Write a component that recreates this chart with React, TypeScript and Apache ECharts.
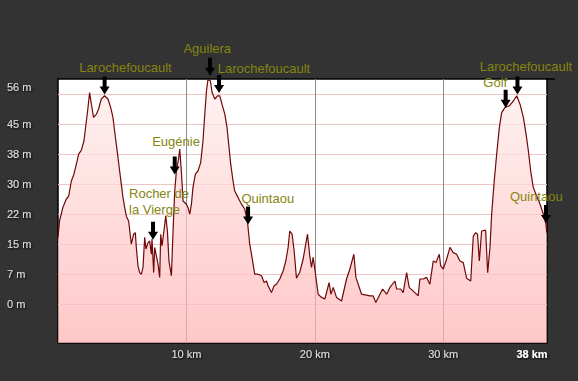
import React, { useEffect, useRef } from 'react';
import * as echarts from 'echarts';

// Elevation profile (distance in km, elevation in m)
const distanceKm = [
  0, 0.12, 0.38, 0.65, 0.83, 1.04, 1.24, 1.43, 1.61, 1.82, 2.02, 2.21, 2.33, 2.46, 2.6, 2.77, 2.99, 3.16, 3.37, 3.63,
  3.89, 4.1, 4.28, 4.41, 4.54, 4.67, 4.8, 4.93, 5.06, 5.19, 5.32, 5.5, 5.71, 5.89, 6.02, 6.1, 6.23, 6.36, 6.49, 6.62,
  6.75, 6.85, 7.01, 7.14, 7.27, 7.32, 7.45, 7.53, 7.66, 7.79, 7.92, 8.0, 8.1, 8.25, 8.39, 8.52, 8.64, 8.83, 8.96, 9.09,
  9.22, 9.4, 9.48, 9.61, 9.74, 10.0, 10.12, 10.26, 10.39, 10.51, 10.7, 10.9, 11.11, 11.29, 11.43, 11.56, 11.68, 11.87, 12.0, 12.21,
  12.42, 12.6, 12.77, 12.99, 13.16, 13.32, 13.45, 13.63, 13.76, 14.02, 14.29, 14.54, 14.75, 14.93, 15.11, 15.32, 15.58, 15.85, 16.05, 16.24,
  16.36, 16.62, 16.83, 17.01, 17.27, 17.53, 17.74, 17.92, 18.05, 18.23, 18.39, 18.57, 18.83, 19.09, 19.43, 19.61, 19.74, 19.87, 20.0, 20.26,
  20.52, 20.78, 21.11, 21.25, 21.43, 21.69, 22.08, 22.47, 22.73, 23.04, 23.2, 23.64, 24.29, 24.54, 24.75, 25.07, 25.28, 25.59, 25.85, 26.24,
  26.37, 26.68, 26.88, 27.15, 27.35, 27.79, 28.05, 28.18, 28.44, 28.71, 28.96, 29.22, 29.43, 29.69, 29.8, 30.0, 30.27, 30.52, 30.78, 31.04,
  31.3, 31.56, 31.82, 32.14, 32.34, 32.53, 32.67, 32.81, 32.99, 33.3, 33.46, 33.64, 33.77, 33.95, 34.16, 34.37, 34.55, 34.81, 35.14, 35.46,
  35.72, 35.98, 36.24, 36.45, 36.63, 36.81, 37.01, 37.28, 37.54, 37.8, 38.0, 38.06,
];
const elevationM = [
  16.7, 20.8, 24.2, 26.3, 27, 30.8, 32.5, 35, 37.5, 38.5, 40.8, 45.8, 49, 52.9, 50, 46.7, 47.5, 48.8, 51.3, 52.1,
  51.3, 49.2, 46.7, 43.3, 40, 36.7, 33.3, 30, 26.7, 24.2, 22, 20.8, 15, 17.5, 17.9, 14.2, 9.6, 7.9, 7.5, 9.2,
  16.7, 13.8, 15.4, 15.8, 12.5, 16.3, 7.9, 14.2, 12.1, 10, 6.7, 17.5, 14.6, 18.3, 22.1, 18.3, 10.8, 7.1, 18.3, 28.3,
  33.3, 36.5, 38.8, 33, 25.8, 25, 24.2, 22.5, 25, 29.2, 32.5, 33.3, 35.4, 40.8, 47.5, 53.3, 56.2, 55.8, 52.9, 51.3,
  52.1, 52.1, 50, 47.5, 44.2, 39.2, 35, 30.8, 28.3, 26.7, 25, 23.8, 20.8, 15, 11.7, 7.5, 7.5, 7.1, 5.4, 5.8,
  4.6, 2.9, 4.6, 5, 6.3, 8.3, 10.8, 14.2, 18.3, 17.5, 13.3, 6.5, 8, 11.3, 17.5, 12, 9.2, 11.7, 8.8, 2.5,
  1.7, 1.3, 5.4, 2.5, 4.2, 1.7, 0.8, 6.3, 8.8, 12.5, 6.7, 2.5, 2.1, 2.1, 0.4, 2.5, 3.8, 2.5, 4.2, 5.8,
  3.8, 3.8, 2.9, 7.9, 4.2, 2.9, 2.1, 6.3, 6.3, 6.7, 5, 10.8, 10.4, 12.5, 9.6, 8.8, 11.3, 14.2, 12.9, 12.5,
  10.8, 10.4, 6.5, 5.8, 17, 17.9, 17.5, 10.8, 18.3, 18.5, 7.9, 14.2, 22.5, 30, 37.5, 44.2, 47.9, 49.2, 49.6, 50.8,
  52.1, 50, 46.7, 42.5, 38.3, 33.3, 29.2, 27, 25, 22.5, 20, 17.9,
];

// Axes
const yTickValues = [0, 7.5, 15, 22.5, 30, 37.5, 45, 52.5];
const yLabelValues = [0, 7.5, 15, 22.5, 30, 37.5, 45, 54.4];
const yLabelTexts = ['0 m', '7 m', '15 m', '22 m', '30 m', '38 m', '45 m', '56 m'];
const xTickValues = [10, 20, 30];
const xLabelValues = [10, 20, 30, 38.08];
const xLabelTexts = ['10 km', '20 km', '30 km', '38 km'];

// Points of interest
const poiNames = [
  'Larochefoucault', 'Aguilera', 'Larochefoucault', 'Eugénie', 'Rocher de\nla Vierge',
  'Quintaou', 'Golf', 'Larochefoucault', 'Quintaou',
];
const poiKm = [3.63, 11.84, 12.54, 9.09, 7.4, 14.8, 34.86, 35.78, 38.0];
const poiElevation = [52.4, 56.2, 52.8, 32.4, 16.1, 19.9, 49.1, 52.4, 20.3];

// Label placement relative to arrow tip (pixels)
const poiLayout = [
  { dx: 20.8, dy: -26.7, lift: 0, align: 'center' },
  { dx: -2.8, dy: -27.4, lift: 3.7, align: 'center' },
  { dx: 44.9, dy: -25, lift: 0, align: 'center' },
  { dx: 1.3, dy: -33.3, lift: 0, align: 'center' },
  { dx: -24, dy: -38.8, lift: 0, align: 'left' },
  { dx: 19.7, dy: -26, lift: 0, align: 'center' },
  { dx: -10.4, dy: -25.6, lift: 0, align: 'center' },
  { dx: 8.5, dy: -28.3, lift: 0, align: 'center' },
  { dx: -9.7, dy: -26.6, lift: 0, align: 'center' },
];

const FONT = '"Liberation Sans", Arial, sans-serif';
const ARROW = 'path://M3,0 L7,0 L7,10 L10,10 L5,18 L0,10 L3,10 Z';

function nearestIndex(list: number[], v: number) {
  let best = 0;
  for (let i = 1; i < list.length; i++) {
    if (Math.abs(list[i] - v) < Math.abs(list[best] - v)) best = i;
  }
  return best;
}

export default function App() {
  const ref = useRef<HTMLDivElement>(null);

  useEffect(() => {
    document.body.style.margin = '0';
    if (!ref.current) return;
    const chart = echarts.init(ref.current, null, { renderer: 'svg' });

    const data = distanceKm.map((d, i) => [d, elevationM[i]]);
    const axisTextStyle = {
      color: '#e2dcdc',
      fontFamily: FONT,
      fontSize: 11,
      textShadowColor: '#000',
      textShadowBlur: 2,
      textShadowOffsetX: 1,
      textShadowOffsetY: 1,
    };

    chart.setOption({
      animation: false,
      backgroundColor: '#333333',
      grid: {
        left: 58,
        right: 31,
        top: 79,
        bottom: 38,
        show: true,
        backgroundColor: '#ffffff',
        borderColor: '#000000',
        borderWidth: 1.5,
      },
      xAxis: {
        type: 'value',
        min: 0,
        max: 38.08,
        axisLine: { show: false },
        axisTick: { show: false, customValues: xTickValues },
        splitLine: { show: true, lineStyle: { color: '#8c8c8c', width: 1 } },
        axisLabel: {
          customValues: xLabelValues,
          margin: 5,
          ...axisTextStyle,
          formatter: (v: number) => {
            const i = nearestIndex(xLabelValues, v);
            return i === xLabelValues.length - 1 ? `{b|${xLabelTexts[i]}}` : xLabelTexts[i];
          },
          rich: {
            b: {
              color: '#ffffff',
              fontWeight: 'bold',
              fontFamily: FONT,
              fontSize: 11,
              padding: [0, 30, 0, 0],
              textShadowColor: '#000',
              textShadowBlur: 2,
              textShadowOffsetX: 1,
              textShadowOffsetY: 1,
            },
          },
        },
      },
      yAxis: {
        type: 'value',
        min: -9.7,
        max: 56.3,
        axisLine: { show: false },
        axisTick: { show: false, customValues: yTickValues },
        splitLine: { show: true, lineStyle: { color: '#f1c4c4', width: 1 } },
        axisLabel: {
          customValues: yLabelValues,
          align: 'left',
          margin: 51,
          ...axisTextStyle,
          formatter: (v: number) => yLabelTexts[nearestIndex(yLabelValues, v)],
        },
      },
      graphic: [
        {
          type: 'line',
          shape: { x1: 546, y1: 79, x2: 555, y2: 79 },
          style: { stroke: '#000', lineWidth: 1.5 },
          z: 10,
        },
      ],
      series: [
        {
          type: 'line',
          data,
          showSymbol: false,
          symbol: 'none',
          lineStyle: { color: '#700808', width: 1.2 },
          areaStyle: {
            origin: 'start',
            color: new echarts.graphic.LinearGradient(0, 0, 0, 1, [
              { offset: 0, color: '#ffeeee' },
              { offset: 1, color: '#ffb0b0' },
            ]),
          },
          markPoint: {
            symbol: ARROW,
            symbolSize: [10, 18],
            symbolKeepAspect: false,
            itemStyle: { color: '#000000' },
            label: {
              show: true,
              position: 'inside',
              formatter: '{b}',
              color: '#85850f',
              fontFamily: FONT,
              fontSize: 13,
              lineHeight: 16,
            },
            data: poiNames.map((name, i) => ({
              name,
              coord: [poiKm[i], poiElevation[i]],
              symbolOffset: [0, -9 - poiLayout[i].lift],
              label: {
                offset: [poiLayout[i].dx, poiLayout[i].dy + 9],
                align: poiLayout[i].align,
              },
            })),
          },
        },
      ],
    });

    return () => chart.dispose();
  }, []);

  return <div ref={ref} style={{ width: 578, height: 381 }} />;
}
